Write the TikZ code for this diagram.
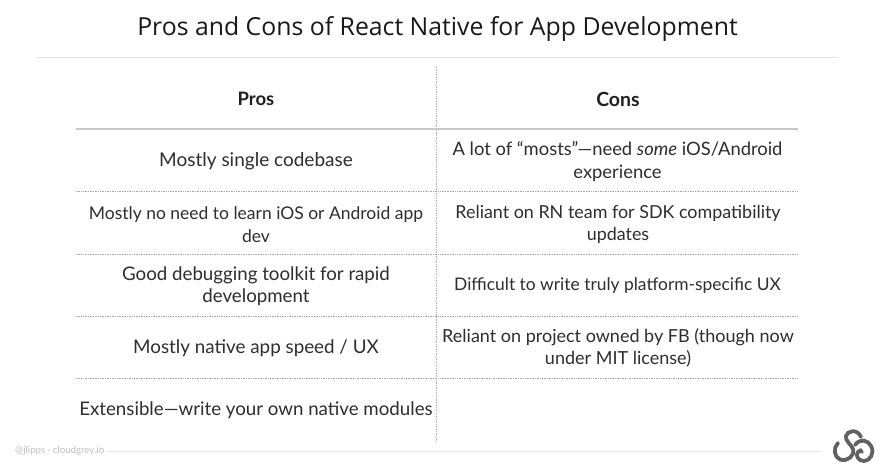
\documentclass[tikz,border=0pt]{standalone}
\usepackage{fontspec}
\setmainfont{Lato}
\newfontfamily\titlefont{Open Sans}
\tikzset{
  x=1pt,y=-1pt,
  cell/.style={align=center,inner sep=0pt,text=black!82,font=\fontsize{#1}{22.5}\selectfont},
  head/.style={inner sep=0pt,text=black!88,font=\fontsize{#1}{20}\selectfont\bfseries},
  rule/.style={draw=black!35,line width=.7pt,densely dotted},
  solidrule/.style={draw=black!22,line width=1.1pt},
  pale/.style={draw=black!10,line width=1pt},
  logo/.style={draw=black!62,line width=3.8pt,line cap=round}
}
\begin{document}
\begin{tikzpicture}
\useasboundingbox (0,0) rectangle (880,470);
\fill[white] (0,0) rectangle (880,470);
\node[inner sep=0pt,text=black!90,font=\titlefont\fontsize{24.8}{30}\selectfont] (title) at (437.5,29) {Pros and Cons of React Native for App Development};
\coordinate (tl) at (36,58); \coordinate (tr) at (838,58);
\draw[pale] (tl) -- (tr);
\coordinate (v1) at (436.5,67); \coordinate (v2) at (436.5,442);
\draw[rule,draw=black!30] (v1) -- (v2);
\coordinate (h0l) at (76,129); \coordinate (h0r) at (798,129);
\coordinate (h1l) at (76,191); \coordinate (h1r) at (798,191);
\coordinate (h2l) at (76,254); \coordinate (h2r) at (798,254);
\coordinate (h3l) at (76,316); \coordinate (h3r) at (798,316);
\coordinate (h4l) at (76,378); \coordinate (h4r) at (798,378);
\draw[solidrule] (h0l) -- (h0r);
\draw[rule] (h1l) -- (h1r);
\draw[rule] (h2l) -- (h2r);
\draw[rule] (h3l) -- (h3r);
\draw[rule] (h4l) -- (h4r);
\node[head=18.5] (pros) at (256,99) {Pros};
\node[head=19.5] (cons) at (618,99) {Cons};
\node[cell=19] (p1) at (256,161.5) {Mostly single codebase};
\node[cell=18.4] (c1) at (617.5,161.5) {A lot of “mosts”—need \textit{some} iOS/Android\\experience};
\node[cell=17.5] (p2) at (256,224.5) {Mostly no need to learn iOS or Android app\\dev};
\node[cell=17.9] (c2) at (618,224.5) {Reliant on RN team for SDK compatibility\\updates};
\node[cell=18.7] (p3) at (256,286) {Good debugging toolkit for rapid\\development};
\node[cell=17.4] (c3) at (617.5,285.5) {Difficult to write truly platform-specific UX};
\node[cell=18.8] (p4) at (256,348) {Mostly native app speed / UX};
\node[cell=18] (c4) at (618,348) {Reliant on project owned by FB (though now\\under MIT license)};
\node[cell=18.7] (p5) at (256,410.5) {Extensible—write your own native modules};
\node[inner sep=0pt,anchor=west,text=black!25,font=\fontsize{9.7}{12}\selectfont] (foot) at (15,451) {@jlipps · cloudgrey.io};
\coordinate (fr) at (820,451);
\draw[pale] (foot.east) ++(3,0) -- (fr);
\draw[logo] (838,443) .. controls (833,448) and (834,457) .. (840,459.5) .. controls (847,462) and (855,456) .. (853,449) .. controls (851,444) and (845,441) .. (846,436) .. controls (847,431) and (857,428) .. (861,437);
\draw[logo] (855,445) .. controls (860,438) and (868,440) .. (871,446) .. controls (875,453) and (870,461) .. (864,461) .. controls (858,461) and (855,455) .. (858,452) .. controls (859,450) and (862,450) .. (862,452);
\end{tikzpicture}
\end{document}
